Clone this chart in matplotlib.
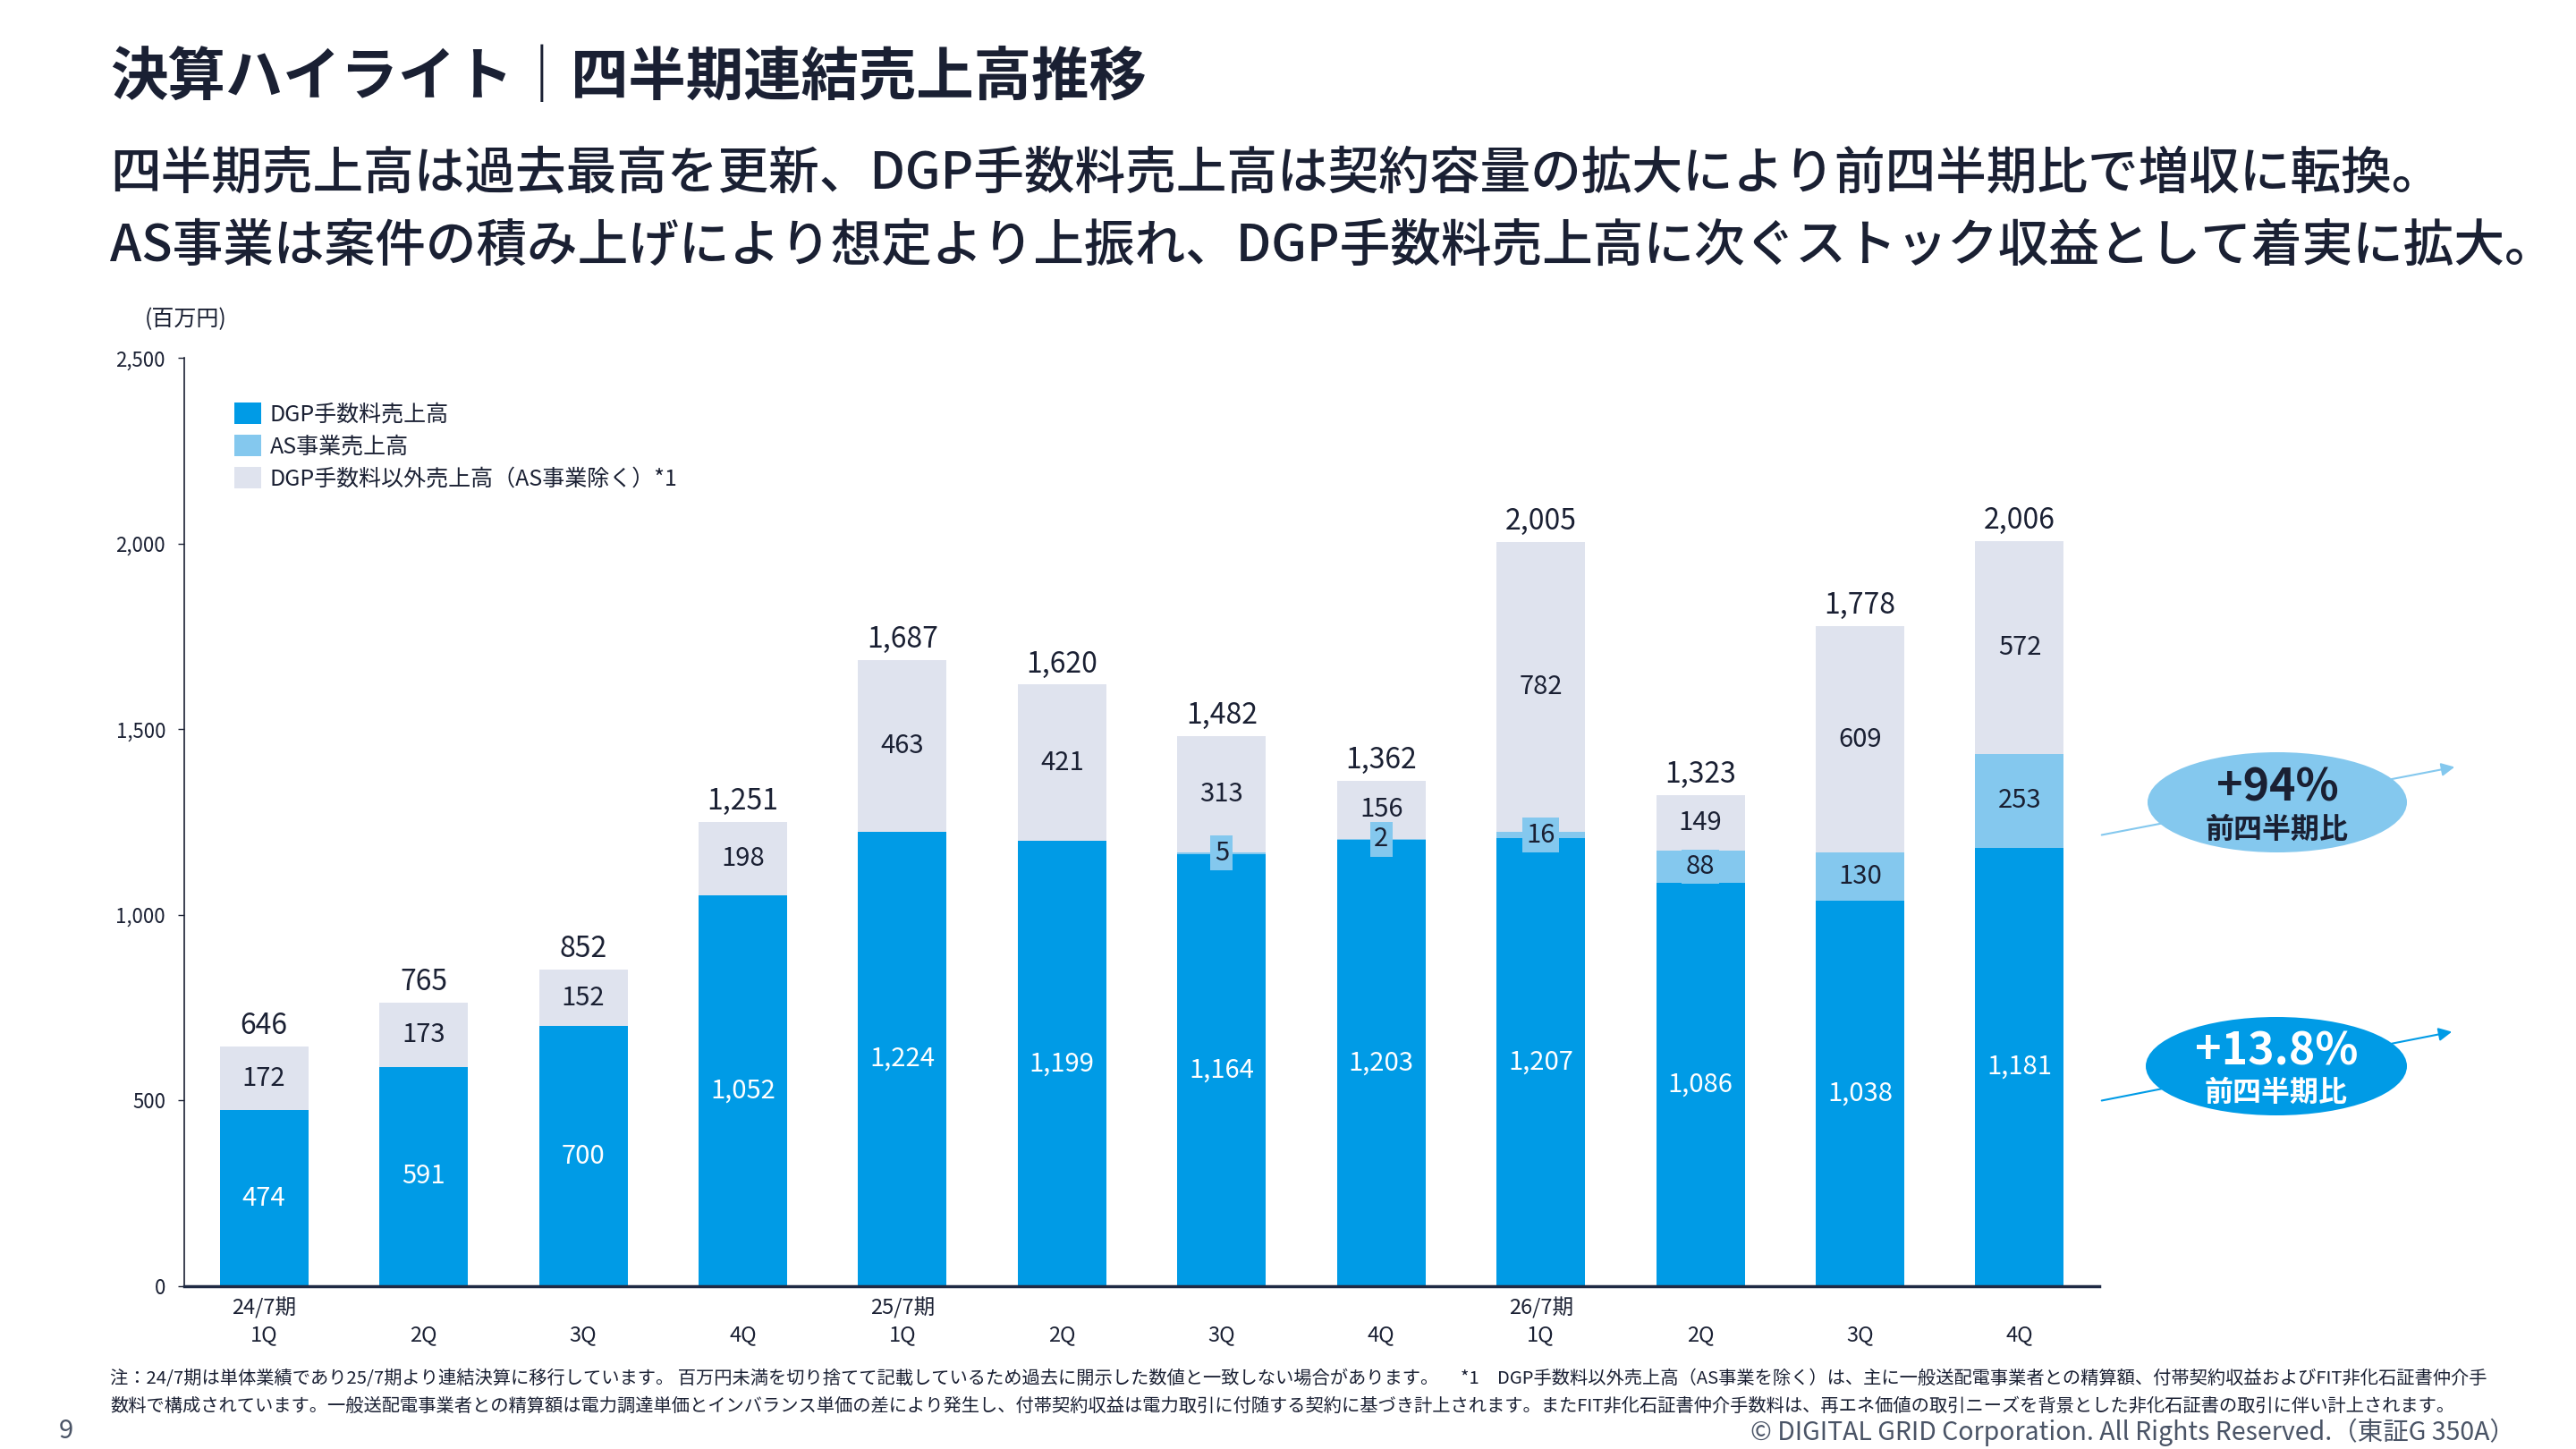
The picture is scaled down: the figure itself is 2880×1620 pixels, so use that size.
import numpy as np
import matplotlib.pyplot as plt
from matplotlib.patches import Ellipse, Patch

plt.rcParams['font.family'] = ['Noto Sans CJK JP', 'DejaVu Sans']

# データ（百万円）
quarters = ['1Q', '2Q', '3Q', '4Q'] * 3
fiscal_years = ['24/7期', '25/7期', '26/7期']
dgp_fee = [474, 591, 700, 1052, 1224, 1199, 1164, 1203, 1207, 1086, 1038, 1181]
as_sales = [0, 0, 0, 0, 0, 0, 5, 2, 16, 88, 130, 253]
other_sales = [172, 173, 152, 198, 463, 421, 313, 156, 782, 149, 609, 572]
totals = [646, 765, 852, 1251, 1687, 1620, 1482, 1362, 2005, 1323, 1778, 2006]
yticks = [0, 500, 1000, 1500, 2000, 2500]
legend_labels = ['DGP手数料売上高', 'AS事業売上高', 'DGP手数料以外売上高（AS事業除く）*1']
growth_as = '+94%'
growth_dgp = '+13.8%'

BLUE = '#009BE6'
LIGHT = '#84C8EE'
GREY = '#DFE3EE'
INK = '#1A2033'
GRAY_TXT = '#4A5466'

fig = plt.figure(figsize=(28.8, 16.2), dpi=100)
ax = fig.add_axes([0.0715, 0.1123, 0.7435, 0.6407])

x = np.arange(len(quarters))
dgp = np.array(dgp_fee)
asv = np.array(as_sales)
oth = np.array(other_sales)
w = 0.555

ax.bar(x, dgp, width=w, color=BLUE, zorder=2)
ax.bar(x, asv, width=w, bottom=dgp, color=LIGHT, zorder=2)
ax.bar(x, oth, width=w, bottom=dgp + asv, color=GREY, zorder=2)

for i in x:
    ax.text(i, dgp[i] / 2, f'{dgp[i]:,}', ha='center', va='center',
            color='white', fontsize=21, zorder=4)
    ax.text(i, dgp[i] + asv[i] + oth[i] / 2, f'{oth[i]:,}', ha='center', va='center',
            color=INK, fontsize=21, zorder=4)
    if asv[i] > 0:
        ax.text(i, dgp[i] + asv[i] / 2, f'{asv[i]:,}', ha='center', va='center',
                color=INK, fontsize=21, zorder=5,
                bbox=dict(boxstyle='square,pad=0.15', fc=LIGHT, ec='none'))
    top = dgp[i] + asv[i] + oth[i]
    ax.annotate(f'{totals[i]:,}', (i, top), xytext=(0, 5), textcoords='offset points',
                ha='center', va='bottom', color=INK, fontsize=23)

ax.set_xlim(-0.5, 11.5)
ax.set_ylim(0, 2500)
ax.set_yticks(yticks)
ax.set_yticklabels([f'{v:,}' for v in yticks])
ax.set_xticks(x)
ax.set_xticklabels(quarters)
ax.tick_params(axis='y', length=5, width=1, labelsize=16, colors=INK, pad=10)
ax.tick_params(axis='x', length=0, labelsize=17, colors=INK, pad=31)
for s in ['top', 'right']:
    ax.spines[s].set_visible(False)
ax.spines['left'].set_linewidth(1.2)
ax.spines['left'].set_color(INK)
ax.spines['bottom'].set_linewidth(2.5)
ax.spines['bottom'].set_color('#1F2A44')

for k, fy in enumerate(fiscal_years):
    ax.text(4 * k, -0.023, fy, transform=ax.get_xaxis_transform(),
            ha='center', va='center', fontsize=17, color=INK)

handles = [Patch(fc=BLUE), Patch(fc=LIGHT), Patch(fc=GREY)]
ax.legend(handles, legend_labels, loc='upper left', bbox_to_anchor=(0.026, 0.952),
          frameon=False, fontsize=18, handlelength=1.2, handleheight=1.1,
          handletextpad=0.4, labelspacing=0.38, borderaxespad=0, borderpad=0,
          labelcolor=INK)

# ページ全体の文字・吹き出し（ピクセル座標）
oax = fig.add_axes([0, 0, 1, 1], zorder=5)
oax.set_xlim(0, 2880)
oax.set_ylim(1620, 0)
oax.axis('off')

oax.text(123, 87, '決算ハイライト｜四半期連結売上高推移', fontsize=46.4,
         fontweight='bold', color=INK, va='center')
oax.text(123, 195, '四半期売上高は過去最高を更新、DGP手数料売上高は契約容量の拡大により前四半期比で増収に転換。',
         fontsize=40.8, fontweight='medium', color=INK, va='center')
oax.text(123, 276, 'AS事業は案件の積み上げにより想定より上振れ、DGP手数料売上高に次ぐストック収益として着実に拡大。',
         fontsize=40.8, fontweight='medium', color=INK, va='center')
oax.text(208, 357, '(百万円)', fontsize=18, color=INK, ha='center', va='center')

# 前四半期比の吹き出し
oax.annotate('', xy=(2747, 857), xytext=(2347, 934),
             arrowprops=dict(arrowstyle='-|>', color=LIGHT, lw=1.5, mutation_scale=22))
oax.annotate('', xy=(2744, 1153), xytext=(2347, 1231),
             arrowprops=dict(arrowstyle='-|>', color=BLUE, lw=1.5, mutation_scale=22))
oax.add_patch(Ellipse((2546, 897), 290, 112, fc=LIGHT, ec='none', zorder=3))
oax.add_patch(Ellipse((2545, 1192), 292, 110, fc=BLUE, ec='none', zorder=3))
oax.text(2546, 881, growth_as, fontsize=36, fontweight='bold', color=INK,
         ha='center', va='center', zorder=4)
oax.text(2546, 928, '前四半期比', fontsize=23, fontweight='bold', color=INK,
         ha='center', va='center', zorder=4)
oax.text(2545, 1176, growth_dgp, fontsize=36, fontweight='bold', color='white',
         ha='center', va='center', zorder=4)
oax.text(2545, 1222, '前四半期比', fontsize=23, fontweight='bold', color='white',
         ha='center', va='center', zorder=4)

# 注記
note1 = ('注：24/7期は単体業績であり25/7期より連結決算に移行しています。 百万円未満を切り捨てて記載しているため過去に開示した数値と一致しない場合があります。 　*1　'
         'DGP手数料以外売上高（AS事業を除く）は、主に一般送配電事業者との精算額、付帯契約収益およびFIT非化石証書仲介手')
note2 = ('数料で構成されています。一般送配電事業者との精算額は電力調達単価とインバランス単価の差により発生し、付帯契約収益は電力取引に付随する契約に基づき計上されます。'
         'またFIT非化石証書仲介手数料は、再エネ価値の取引ニーズを背景とした非化石証書の取引に伴い計上されます。')
oax.text(123, 1542, note1, fontsize=14.6, color=INK, va='center')
oax.text(123, 1572, note2, fontsize=14.6, color=INK, va='center')
oax.text(74, 1600, '9', fontsize=21, color=GRAY_TXT, ha='center', va='center')
oax.text(2812, 1601, '© DIGITAL GRID Corporation. All Rights Reserved.（東証G 350A）',
         fontsize=20.5, color=GRAY_TXT, ha='right', va='center')

fig.savefig('out.png', dpi=100)
